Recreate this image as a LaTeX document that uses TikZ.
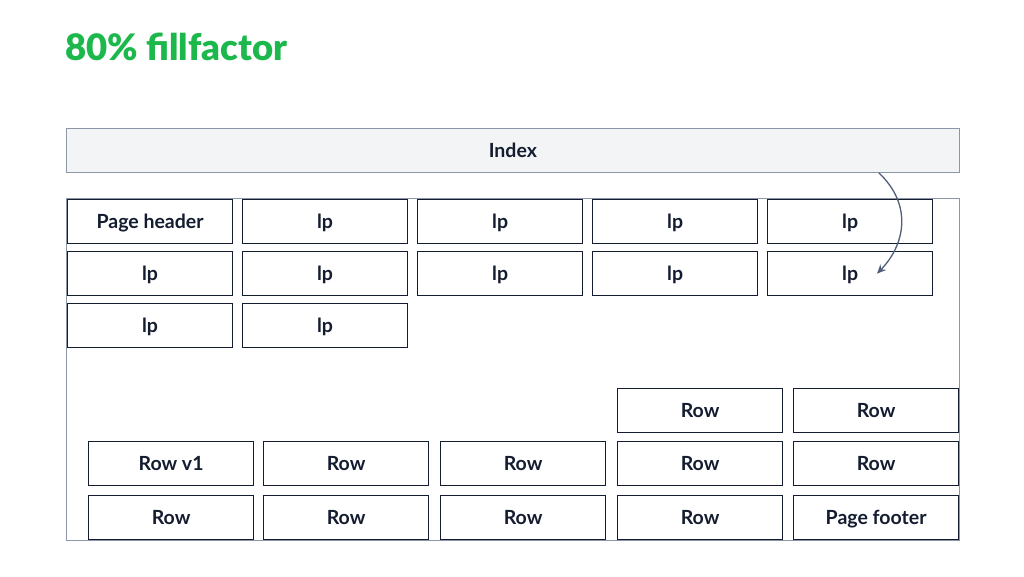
\documentclass[tikz,border=0pt]{standalone}
\usepackage{fontspec}
\setmainfont{Lato}[UprightFont=* Bold]
\usetikzlibrary{arrows.meta}
\definecolor{titlegreen}{RGB}{28,184,76}
\definecolor{navy}{RGB}{20,28,48}
\definecolor{outline}{RGB}{140,150,168}
\definecolor{idxfill}{RGB}{243,244,246}
\definecolor{arrowc}{RGB}{80,95,120}
\tikzset{
  cell/.style={draw=navy, line width=1.2pt, fill=white, minimum width=165pt, minimum height=44pt, inner sep=0pt, text height=15pt, text depth=1pt, text=navy, font=\fontsize{19.5}{21}\selectfont, anchor=north west},
}
\begin{document}
\begin{tikzpicture}[x=1pt,y=-1pt]
\useasboundingbox[fill=white] (0,0) rectangle (1024,576);
\node[anchor=base west, text=titlegreen, font=\fontsize{36.5}{40}\selectfont, inner sep=0pt] (title) at (65,60) {\textbf{80\% fillfactor}};
% page outline
\node[draw=outline, line width=0.8pt, minimum width=893pt, minimum height=342pt, inner sep=0pt, anchor=north west] (page) at (66,198) {};
% index
\node[draw=outline, line width=0.8pt, fill=idxfill, minimum width=893pt, minimum height=44pt, inner sep=0pt, text height=15pt, text depth=1pt, anchor=north west, text=navy, font=\fontsize{19.5}{21}\selectfont] (index) at (66,128) {Index};
% top rows
\node[cell] (h) at (67,199) {Page header};
\node[cell] (a2) at (242,199) {lp};
\node[cell] (a3) at (417,199) {lp};
\node[cell] (a4) at (592,199) {lp};
\node[cell] (a5) at (767,199) {lp};
\node[cell] (b1) at (67,251) {lp};
\node[cell] (b2) at (242,251) {lp};
\node[cell] (b3) at (417,251) {lp};
\node[cell] (b4) at (592,251) {lp};
\node[cell] (b5) at (767,251) {lp};
\node[cell] (c1) at (67,303) {lp};
\node[cell] (c2) at (242,303) {lp};
% bottom rows
\node[cell] (r14) at (617,388) {Row};
\node[cell] (r15) at (793,388) {Row};
\node[cell] (r21) at (88,441) {Row v1};
\node[cell] (r22) at (263,441) {Row};
\node[cell] (r23) at (440,441) {Row};
\node[cell] (r24) at (617,441) {Row};
\node[cell] (r25) at (793,441) {Row};
\node[cell] (r31) at (88,495) {Row};
\node[cell] (r32) at (263,495) {Row};
\node[cell] (r33) at (440,495) {Row};
\node[cell] (r34) at (617,495) {Row};
\node[cell] (f) at (793,495) {Page footer};
% arrow
\coordinate (as) at ([xshift=-81pt]index.south east);
\coordinate (ae) at ([xshift=110pt]b5.west);
\draw[arrowc, line width=1.3pt, -{Stealth[length=9pt,width=8pt]}] (as) .. controls (913,205) and (905,245) .. (ae);
\end{tikzpicture}
\end{document}
